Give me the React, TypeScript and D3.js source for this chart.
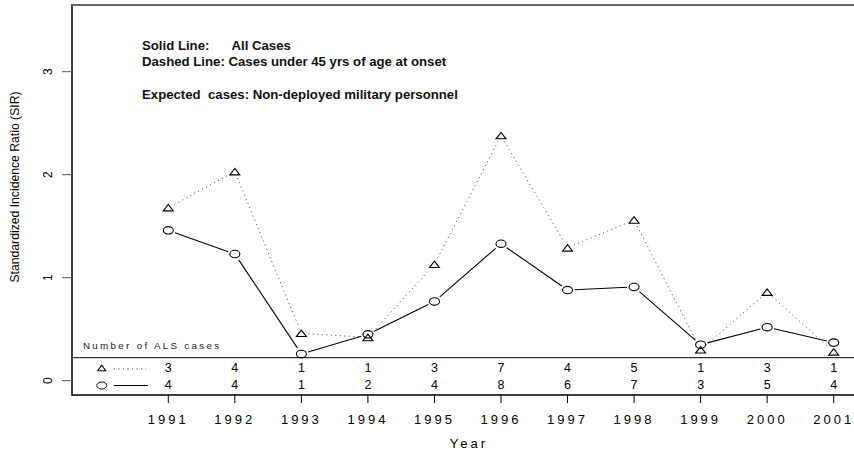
import { useEffect, useRef } from "react";
import * as d3 from "d3";

const years = [1991, 1992, 1993, 1994, 1995, 1996, 1997, 1998, 1999, 2000, 2001];
// SIR, cases under 45 yrs at onset (dashed / triangles)
const sirUnder45 = [1.68, 2.03, 0.46, 0.42, 1.13, 2.38, 1.29, 1.56, 0.3, 0.86, 0.28];
// SIR, all cases (solid / circles)
const sirAll = [1.46, 1.23, 0.26, 0.45, 0.77, 1.33, 0.88, 0.91, 0.35, 0.52, 0.37];
const casesUnder45 = [3, 4, 1, 1, 3, 7, 4, 5, 1, 3, 1];
const casesAll = [4, 4, 1, 2, 4, 8, 6, 7, 3, 5, 4];
const yTicks = [0, 1, 2, 3];

const W = 854;
const H = 453;
const FONT = "'Liberation Sans', Arial, Helvetica, sans-serif";

export default function App() {
  const ref = useRef<SVGSVGElement | null>(null);

  useEffect(() => {
    if (!ref.current) return;
    const svg = d3.select(ref.current);
    svg.selectAll("*").remove();

    const left = 72, top = 5, bottom = 395;
    const x = d3.scaleLinear([1989.553, 2001.305], [left, W]);
    const y = d3.scaleLinear([0, 3], [380.7, 71.7]);

    // frame: left, top, bottom
    svg.append("path")
      .attr("d", `M${W},${top}H${left}V${bottom}H${W}`)
      .attr("fill", "none")
      .attr("stroke", "#000")
      .attr("stroke-width", 1.5);
    svg.append("line")
      .attr("x1", left).attr("x2", W).attr("y1", top).attr("y2", top)
      .attr("stroke", "#777").attr("stroke-width", 1.5);

    // y axis
    const yAxis = svg.append("g").attr("font-family", FONT).attr("font-size", 12);
    yAxis.selectAll("line").data(yTicks).join("line")
      .attr("x1", left - 10).attr("x2", left)
      .attr("y1", (d) => y(d)).attr("y2", (d) => y(d))
      .attr("stroke", "#555");
    yAxis.selectAll("text").data(yTicks).join("text")
      .attr("transform", (d) => `translate(52,${y(d)}) rotate(-90)`)
      .attr("text-anchor", "middle")
      .text((d) => d);
    svg.append("text")
      .attr("transform", `translate(19,187) rotate(-90)`)
      .attr("text-anchor", "middle")
      .attr("font-family", FONT).attr("font-size", 12.2)
      .text("Standardized Incidence Ratio (SIR)");

    // x axis
    const xAxis = svg.append("g").attr("font-family", FONT).attr("font-size", 13);
    xAxis.selectAll("line").data(years).join("line")
      .attr("x1", (d) => x(d)).attr("x2", (d) => x(d))
      .attr("y1", bottom).attr("y2", bottom + 8)
      .attr("stroke", "#000");
    xAxis.selectAll("text").data(years).join("text")
      .attr("x", (d) => x(d)).attr("y", 424)
      .attr("text-anchor", "middle")
      .attr("letter-spacing", 3)
      .text((d) => d);
    svg.append("text")
      .attr("x", 469).attr("y", 448)
      .attr("text-anchor", "middle")
      .attr("letter-spacing", 3)
      .attr("font-family", FONT).attr("font-size", 13)
      .text("Year");

    // annotations
    const note = svg.append("g").attr("font-family", FONT).attr("font-size", 13.2)
      .attr("font-weight", "bold").attr("fill", "#111");
    note.append("text").attr("x", 142).attr("y", 50).text("Solid Line:");
    note.append("text").attr("x", 231.5).attr("y", 50).text("All Cases");
    note.append("text").attr("x", 142).attr("y", 66).text("Dashed Line: Cases under 45 yrs of age at onset");
    note.append("text").attr("x", 142).attr("y", 98.5).attr("xml:space", "preserve")
      .text("Expected  cases: Non-deployed military personnel");

    // case count table
    const tableY = 357.7;
    svg.append("line")
      .attr("x1", left).attr("x2", W).attr("y1", tableY).attr("y2", tableY)
      .attr("stroke", "#000");
    svg.append("text")
      .attr("x", 83).attr("y", 349)
      .attr("font-family", FONT).attr("font-size", 9.8)
      .attr("letter-spacing", 2.3)
      .attr("fill", "#222")
      .text("Number of ALS cases");
    const table = svg.append("g").attr("font-family", FONT).attr("font-size", 12.5)
      .attr("text-anchor", "middle");
    table.selectAll("text.r1").data(casesUnder45).join("text")
      .attr("class", "r1")
      .attr("x", (d, i) => x(years[i])).attr("y", 371.8)
      .text((d) => d);
    table.selectAll("text.r2").data(casesAll).join("text")
      .attr("class", "r2")
      .attr("x", (d, i) => x(years[i])).attr("y", 389)
      .text((d) => d);

    const tri = (cx: number, cy: number, w: number, h: number) =>
      `M${cx - w / 2},${cy + h / 2}L${cx + w / 2},${cy + h / 2}L${cx},${cy - h / 2}Z`;

    // table legend
    const lx = x(1990);
    svg.append("path").attr("d", tri(lx, 368, 8, 5.5))
      .attr("fill", "none").attr("stroke", "#000").attr("stroke-width", 1.1);
    svg.append("line").attr("x1", 114).attr("x2", 146).attr("y1", 369).attr("y2", 369)
      .attr("stroke", "#333").attr("stroke-dasharray", "1,3.5");
    svg.append("ellipse").attr("cx", lx).attr("cy", 385.5).attr("rx", 5).attr("ry", 3.5)
      .attr("fill", "none").attr("stroke", "#000");
    svg.append("line").attr("x1", 114).attr("x2", 148).attr("y1", 385.5).attr("y2", 385.5)
      .attr("stroke", "#000");

    // lines with gaps around points (type = "b")
    const gap = 7;
    const segs = (vals: number[]) =>
      vals.slice(1).map((v, i) => {
        const x0 = x(years[i]), y0 = y(vals[i]);
        const x1 = x(years[i + 1]), y1 = y(v);
        const len = Math.hypot(x1 - x0, y1 - y0);
        const ux = (x1 - x0) / len, uy = (y1 - y0) / len;
        const g = Math.min(gap, len / 2);
        return [x0 + ux * g, y0 + uy * g, x1 - ux * g, y1 - uy * g];
      });

    svg.append("g").selectAll("line").data(segs(sirUnder45)).join("line")
      .attr("x1", (d) => d[0]).attr("y1", (d) => d[1])
      .attr("x2", (d) => d[2]).attr("y2", (d) => d[3])
      .attr("stroke", "#444").attr("stroke-dasharray", "1,3.5");
    svg.append("g").selectAll("line").data(segs(sirAll)).join("line")
      .attr("x1", (d) => d[0]).attr("y1", (d) => d[1])
      .attr("x2", (d) => d[2]).attr("y2", (d) => d[3])
      .attr("stroke", "#000").attr("stroke-width", 1.1);

    svg.append("g").selectAll("path").data(sirUnder45).join("path")
      .attr("d", (d, i) => tri(x(years[i]), y(d), 10, 6.5))
      .attr("fill", "none").attr("stroke", "#000").attr("stroke-width", 1.1);
    svg.append("g").selectAll("ellipse").data(sirAll).join("ellipse")
      .attr("cx", (d, i) => x(years[i])).attr("cy", (d) => y(d))
      .attr("rx", 5).attr("ry", 3.7)
      .attr("fill", "none").attr("stroke", "#000").attr("stroke-width", 1.1);
  }, []);

  return (
    <svg
      ref={ref}
      width={W}
      height={H}
      style={{ position: "absolute", left: 0, top: 0, background: "#fff" }}
    />
  );
}
